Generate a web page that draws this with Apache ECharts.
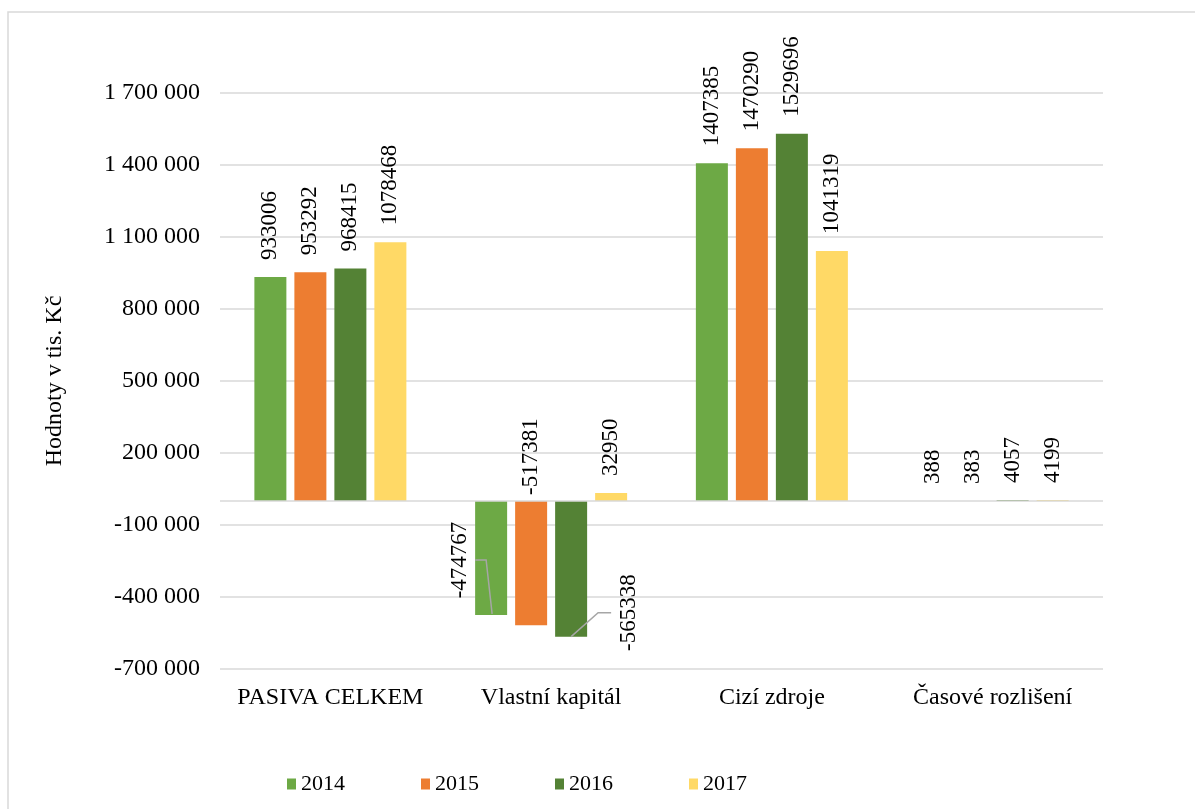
<!DOCTYPE html>
<html>
<head>
<meta charset="utf-8">
<script src="https://cdn.jsdelivr.net/npm/echarts@6/dist/echarts.min.js"></script>
<style>
  html, body { margin: 0; padding: 0; background: #fff; }
  #chart { width: 1195px; height: 809px; }
</style>
</head>
<body>
<div id="chart"></div>
<script>
// Balance-sheet liabilities by year (tis. Kč)
const categories = ['PASIVA CELKEM', 'Vlastní kapitál', 'Cizí zdroje', 'Časové rozlišení'];
const years = ['2014', '2015', '2016', '2017'];
const values2014 = [933006, -474767, 1407385, 388];
const values2015 = [953292, -517381, 1470290, 383];
const values2016 = [968415, -565338, 1529696, 4057];
const values2017 = [1078468, 32950, 1041319, 4199];
const yTicks = [-700000, -400000, -100000, 200000, 500000, 800000, 1100000, 1400000, 1700000];
const yAxisTitle = 'Hodnoty v tis. Kč';

const colors = ['#6DA945', '#ED7D31', '#548235', '#FFD966'];
const serif = '"Liberation Serif", "Times New Roman", serif';
const BAR_W = 32;
const BAR_STEP = 40;

function fmtTick(v) {
  const s = String(Math.abs(v)).replace(/\B(?=(\d{3})+(?!\d))/g, ' ');
  return (v < 0 ? '-' : '') + s;
}

const valueLabel = {
  show: true,
  position: 'top',
  rotate: 90,
  align: 'left',
  verticalAlign: 'middle',
  distance: 17,
  fontFamily: serif,
  fontSize: 23,
  color: '#000',
  formatter: p => String(p.value)
};

// Leader lines for the two moved labels in "Vlastní kapitál": [category, value, series]
const leaderData = [
  [1, values2014[1], 0],
  [1, values2016[1], 2]
];

function renderLeader(params, api) {
  const cat = api.value(0);
  const val = api.value(1);
  const sIdx = api.value(2);
  const zero = api.coord([cat, 0]);
  const end = api.coord([cat, val]);
  const cx = zero[0] + (sIdx - 1.5) * BAR_STEP;
  const left = cx - BAR_W / 2;
  const right = cx + BAR_W / 2;
  const bottom = end[1];
  let pts;
  if (sIdx === 0) {
    const ly = zero[1] + 59;
    pts = [[left, ly], [left + 11, ly], [left + 17, bottom - 1]];
  } else {
    const ly = bottom - 24;
    pts = [[left + 16, bottom], [right + 11, ly], [right + 24, ly]];
  }
  return {
    type: 'polyline',
    shape: { points: pts },
    style: { stroke: '#A6A6A6', lineWidth: 1.5, fill: 'none' },
    silent: true,
    z2: 10
  };
}

const series = [
  {
    name: years[0],
    data: values2014,
    labelLayout: function (p) {
      if (p.dataIndex !== 1) return {};
      const r = p.rect;
      return { x: r.x - 15, y: r.y + 59, align: 'center', verticalAlign: 'middle' };
    },
    markLine: {
      silent: true,
      symbol: 'none',
      label: { show: false },
      lineStyle: { color: '#D9D9D9', width: 1.5, type: 'solid' },
      data: [{ yAxis: 0 }],
      animation: false
    }
  },
  {
    name: years[1],
    data: values2015.map((v, i) => i === 1 ? { value: v, label: { distance: 6 } } : v)
  },
  {
    name: years[2],
    data: values2016,
    labelLayout: function (p) {
      if (p.dataIndex !== 1) return {};
      const r = p.rect;
      return { x: r.x + r.width + 42, y: r.y + r.height - 24, align: 'center', verticalAlign: 'middle' };
    }
  },
  {
    name: years[3],
    data: values2017
  }
].map((s, i) => Object.assign({
  type: 'bar',
  barWidth: BAR_W,
  barGap: ((BAR_STEP - BAR_W) / BAR_W * 100) + '%',
  itemStyle: { color: colors[i] },
  label: valueLabel,
  emphasis: { disabled: true },
  animation: false,
  z: 3
}, s));

series.push({
  name: 'leaders',
  type: 'custom',
  data: leaderData,
  renderItem: renderLeader,
  silent: true,
  animation: false,
  z: 5
});

const chart = echarts.init(document.getElementById('chart'), null, { renderer: 'canvas' });
chart.setOption({
  backgroundColor: '#fff',
  animation: false,
  textStyle: { fontFamily: serif },
  graphic: [{
    type: 'rect',
    shape: { x: 8, y: 12, width: 1200, height: 820 },
    style: { fill: 'none', stroke: '#D9D9D9', lineWidth: 1.5 },
    silent: true,
    z: -1
  }],
  legend: {
    data: years,
    left: 287,
    top: 773,
    padding: 0,
    itemWidth: 9,
    itemHeight: 11,
    itemGap: 76,
    icon: 'rect',
    textStyle: { fontFamily: serif, fontSize: 22, color: '#000' },
    selectedMode: false
  },
  grid: { left: 220, right: 92, top: 93, bottom: 140, outerBoundsMode: 'none' },
  xAxis: {
    type: 'category',
    data: categories,
    axisLine: { show: false, onZero: false },
    axisTick: { show: false },
    axisLabel: { interval: 0, fontFamily: serif, fontSize: 24, color: '#000', margin: 17 },
    splitLine: { show: false }
  },
  yAxis: {
    type: 'value',
    min: -700000,
    max: 1700000,
    name: yAxisTitle,
    nameLocation: 'middle',
    nameGap: 153,
    nameTextStyle: { fontFamily: serif, fontSize: 24, color: '#000' },
    axisLine: { show: false },
    axisTick: { show: false, customValues: yTicks },
    axisLabel: {
      customValues: yTicks,
      formatter: fmtTick,
      fontFamily: serif,
      fontSize: 24,
      color: '#000',
      margin: 20
    },
    splitLine: { show: true, lineStyle: { color: '#D9D9D9', width: 1.5 } }
  },
  series: series
});
</script>
</body>
</html>
